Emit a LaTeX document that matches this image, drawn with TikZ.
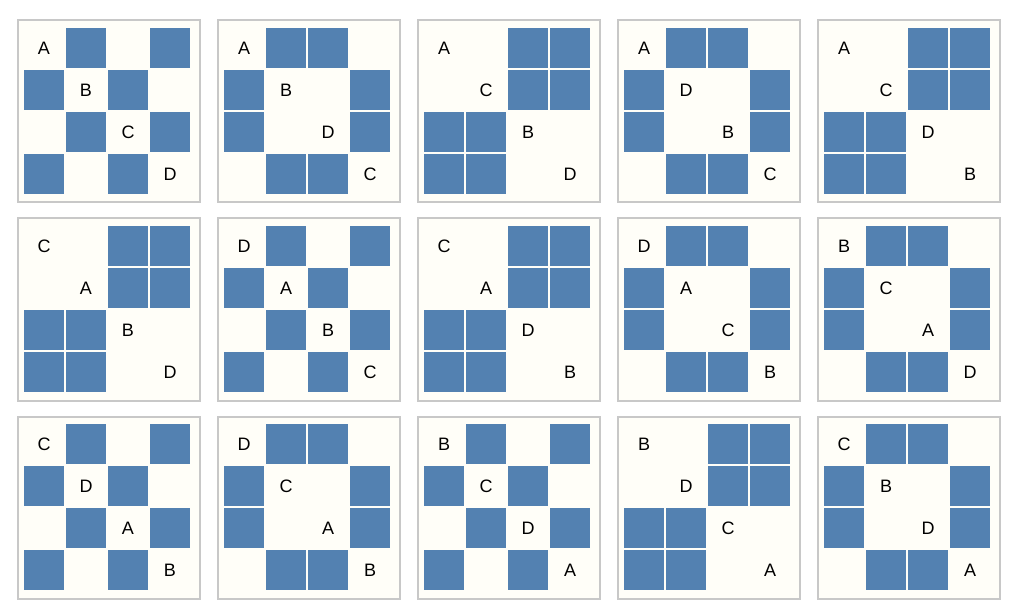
\documentclass[tikz,border=0pt]{standalone}
\usepackage{fontspec}
\setmainfont{Liberation Sans}
\usepackage{tikz}
\definecolor{cellBlue}{RGB}{83,129,177}
\definecolor{panelBg}{RGB}{255,254,248}
\definecolor{panelGray}{RGB}{200,200,200}

\begin{document}
\begin{tikzpicture}[%
	x=1pt,y=-1pt,
	every node/.style={
		font=\fontsize{18}{18}\selectfont,
		inner sep=0pt,
	},
	panel/.style={fill=panelBg, draw=panelGray, line width=2pt},
	cell/.style={fill=cellBlue},
	]
	% fix the page size
	\useasboundingbox[fill=white] (0,0) rectangle (1014,612);
	
	% draw panel frames
	\foreach \px in {0,1,...,4}{
		\foreach \py in {0,1,2}{
			\draw[panel] ({200*\px+17.5},{198*\py+20.5}) rectangle ++(182,182);
		}
	}
	
	% checker panels
	\foreach \px/\py in {0/0,1/1,0/2,2/2}{
		\foreach \cx/\cy in {1/0,3/0,0/1,2/1,1/2,3/2,0/3,2/3}{
			\fill[cell] ({200*\px+24+42*\cx},{198*\py+28+42*\cy}) rectangle ++(40,40);
		}
	}
	
	% ring panels
	\foreach \px/\py in {1/0,3/0,3/1,4/1,1/2,4/2}{
		\foreach \cx/\cy in {1/0,2/0,0/1,3/1,0/2,3/2,1/3,2/3}{
			\fill[cell] ({200*\px+24+42*\cx},{198*\py+28+42*\cy}) rectangle ++(40,40);
		}
	}
	
	% block panels
	\foreach \px/\py in {2/0,4/0,0/1,2/1,3/2}{
		\foreach \cx/\cy in {2/0,3/0,2/1,3/1,0/2,1/2,0/3,1/3}{
			\fill[cell] ({200*\px+24+42*\cx},{198*\py+28+42*\cy}) rectangle ++(40,40);
		}
	}
	
	% place diagonal labels
	\foreach \px/\py/\la/\lb/\lc/\ld in {%
		0/0/A/B/C/D, 1/0/A/B/D/C, 2/0/A/C/B/D, 3/0/A/D/B/C, 4/0/A/C/D/B,
		0/1/C/A/B/D, 1/1/D/A/B/C, 2/1/C/A/D/B, 3/1/D/A/C/B, 4/1/B/C/A/D,
		0/2/C/D/A/B, 1/2/D/C/A/B, 2/2/B/C/D/A, 3/2/B/D/C/A, 4/2/C/B/D/A}{
		\foreach \k/\t in {0/\la,1/\lb,2/\lc,3/\ld}{
			\node (lab-\px-\py-\k) at ({200*\px+44+42*\k},{198*\py+48+42*\k}) {\t};
		}
	}
\end{tikzpicture}
\end{document}
